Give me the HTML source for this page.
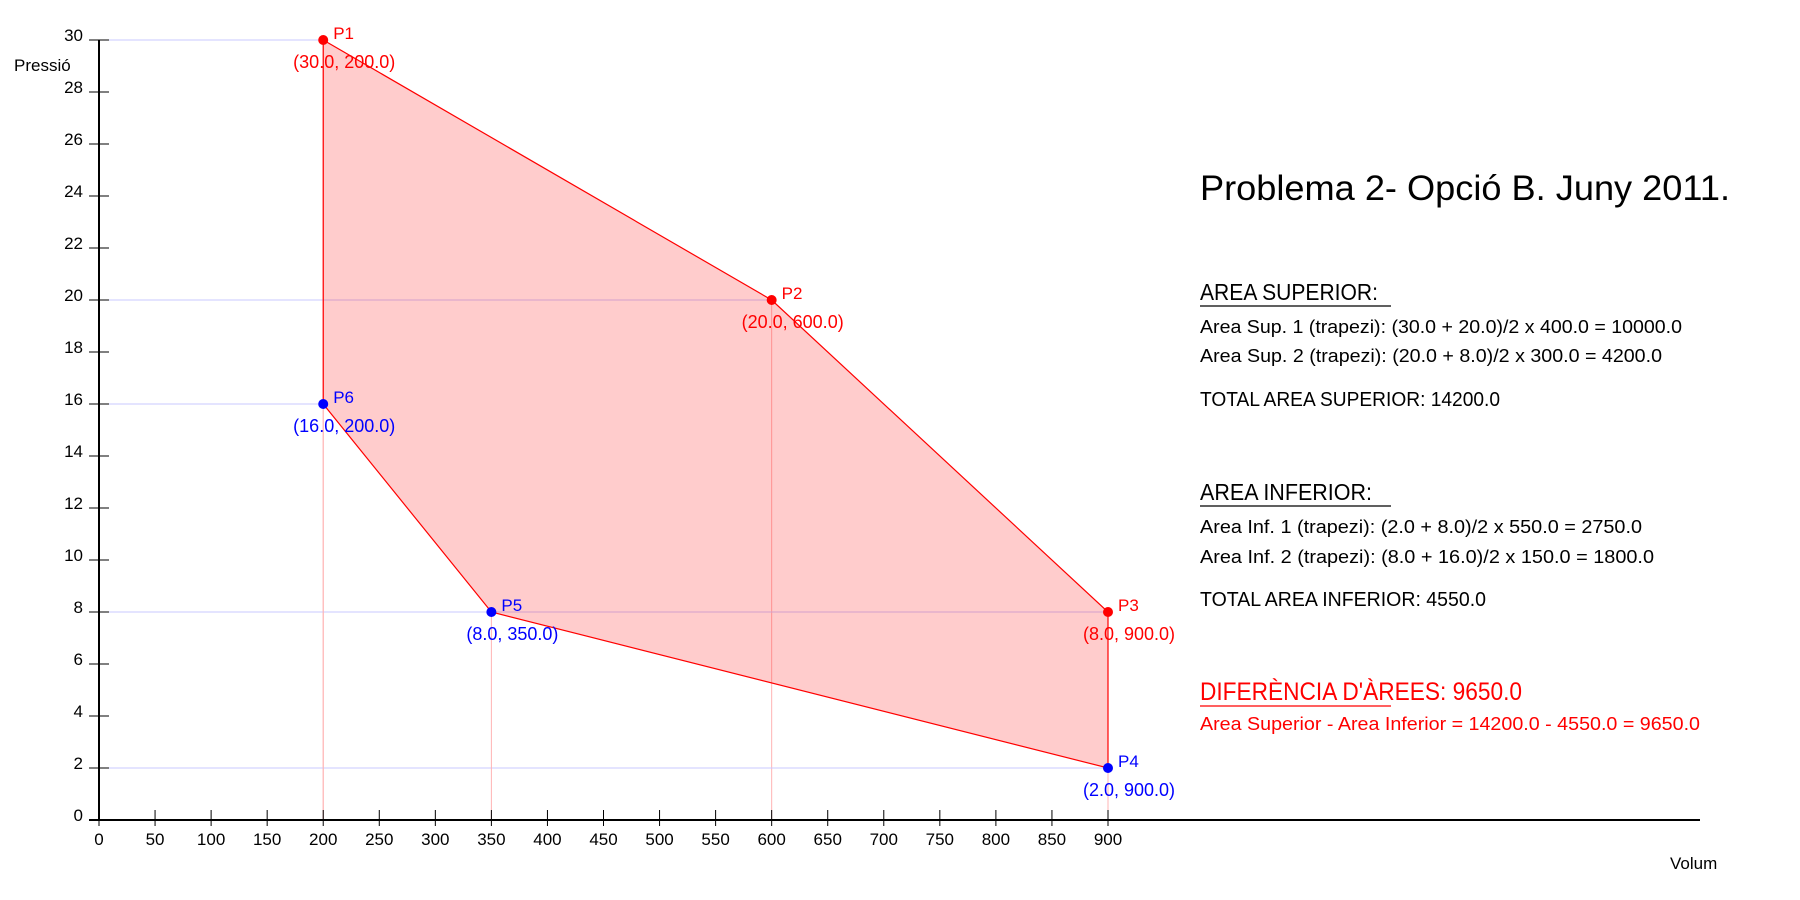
<!DOCTYPE html>
<html><head><meta charset="utf-8"><style>
html,body{margin:0;padding:0;background:#fff;}
svg{display:block;font-family:"Liberation Sans",sans-serif;}
</style></head><body>
<svg id="c" width="1800" height="900" viewBox="0 0 1800 900">
<g id="grid"></g>
<g id="poly"></g>
<g id="axes"></g>
<g id="pts"></g>
<text x="14" y="71" font-size="17">Pressió</text>
<text x="1670" y="869" font-size="17">Volum</text>
<g font-size="18">
<text x="1200" y="200" font-size="35" textLength="530" lengthAdjust="spacingAndGlyphs">Problema 2- Opció B. Juny 2011.</text>
<text x="1200" y="300" font-size="23" textLength="178" lengthAdjust="spacingAndGlyphs">AREA SUPERIOR:</text>
<line x1="1200" y1="306" x2="1391" y2="306" stroke="#000" stroke-width="1.3"/>
<text x="1200" y="333" textLength="482" lengthAdjust="spacingAndGlyphs">Area Sup. 1 (trapezi): (30.0 + 20.0)/2  x 400.0 = 10000.0</text>
<text x="1200" y="362" textLength="462" lengthAdjust="spacingAndGlyphs">Area Sup. 2 (trapezi): (20.0 + 8.0)/2  x 300.0 = 4200.0</text>
<text x="1200" y="406" font-size="20" textLength="300" lengthAdjust="spacingAndGlyphs">TOTAL AREA SUPERIOR: 14200.0</text>
<text x="1200" y="500" font-size="23" textLength="172" lengthAdjust="spacingAndGlyphs">AREA INFERIOR:</text>
<line x1="1200" y1="506" x2="1391" y2="506" stroke="#000" stroke-width="1.3"/>
<text x="1200" y="533" textLength="442" lengthAdjust="spacingAndGlyphs">Area Inf. 1 (trapezi): (2.0 + 8.0)/2  x 550.0 = 2750.0</text>
<text x="1200" y="563" textLength="454" lengthAdjust="spacingAndGlyphs">Area Inf. 2 (trapezi): (8.0 + 16.0)/2  x 150.0 = 1800.0</text>
<text x="1200" y="606" font-size="20" textLength="286" lengthAdjust="spacingAndGlyphs">TOTAL AREA INFERIOR: 4550.0</text>
<text x="1200" y="700" font-size="25" fill="#f00" textLength="322" lengthAdjust="spacingAndGlyphs">DIFERÈNCIA D'ÀREES: 9650.0</text>
<line x1="1200" y1="706" x2="1391" y2="706" stroke="#f00" stroke-width="1.3"/>
<text x="1200" y="730" fill="#f00" textLength="500" lengthAdjust="spacingAndGlyphs">Area Superior - Area Inferior = 14200.0 - 4550.0 = 9650.0</text>
</g>
</svg>
<script>
const names = ['P1','P2','P3','P4','P5','P6'];
const volumes = [200,600,900,900,350,200];
const pressures = [30,20,8,2,8,16];
const pointColors = ['#f00','#f00','#f00','#00f','#00f','#00f'];
const xTicks = [0,50,100,150,200,250,300,350,400,450,500,550,600,650,700,750,800,850,900];
const yTicks = [0,2,4,6,8,10,12,14,16,18,20,22,24,26,28,30];

const X0=99, X1=1108, Y0=820, Y1=40;
const sx = v => X0 + (v/900)*(X1-X0);
const sy = p => Y0 - (p/30)*(Y0-Y1);
const NS='http://www.w3.org/2000/svg';
function mk(tag, parent, attrs){const e=document.createElementNS(NS,tag);for(const k in attrs)e.setAttribute(k,attrs[k]);parent.appendChild(e);return e;}
const grid=document.getElementById('grid'), poly=document.getElementById('poly'), axes=document.getElementById('axes'), pts=document.getElementById('pts');

for(let i=0;i<names.length;i++){
  const h=mk('line',grid,{x1:X0,y1:sy(pressures[i]),x2:sx(volumes[i]),y2:sy(pressures[i]),stroke:'#c8c8ff','stroke-width':1});
  
  
  const v=mk('line',grid,{x1:sx(volumes[i]),y1:sy(pressures[i]),x2:sx(volumes[i]),y2:Y0,stroke:'#ffb4b4','stroke-width':1});
  
  
}
const p=mk('polygon',poly,{points:names.map((n,i)=>sx(volumes[i])+','+sy(pressures[i])).join(' '),fill:'rgba(255,0,0,0.2)',stroke:'#f00','stroke-width':1.2});



const ya=mk('line',axes,{x1:X0,y1:Y1,x2:X0,y2:Y0,stroke:'#000','stroke-width':2});


const xa=mk('line',axes,{x1:X0-10,y1:Y0,x2:1700,y2:Y0,stroke:'#000','stroke-width':2});


yTicks.forEach(t=>{
  const l=mk('line',axes,{x1:X0-10,y1:sy(t),x2:X0+10,y2:sy(t),stroke:'#000','stroke-width':1});
  
  
  const tx=mk('text',axes,{x:X0-16,y:sy(t)+1,'text-anchor':'end','font-size':17});
  tx.textContent=t;
  
  
});
xTicks.forEach(t=>{
  const l=mk('line',axes,{x1:sx(t),y1:Y0-10,x2:sx(t),y2:Y0+6,stroke:'#000','stroke-width':1});
  
  
  const tx=mk('text',axes,{x:sx(t),y:Y0+25,'text-anchor':'middle','font-size':17});
  tx.textContent=t;
  
  
});
for(let i=0;i<names.length;i++){
  const x=sx(volumes[i]), y=sy(pressures[i]);
  const c=mk('circle',pts,{cx:x,cy:y,r:5,fill:pointColors[i]});
  
  
  const n=mk('text',pts,{x:x+10,y:y-1,'font-size':17,fill:pointColors[i]});
  n.textContent=names[i];
  
  
  const lb=mk('text',pts,{x:x+21,y:y+28,'font-size':18,fill:pointColors[i],'text-anchor':'middle'});
  lb.textContent='('+pressures[i].toFixed(1)+', '+volumes[i].toFixed(1)+')';
  
  
}
</script>
</body></html>
